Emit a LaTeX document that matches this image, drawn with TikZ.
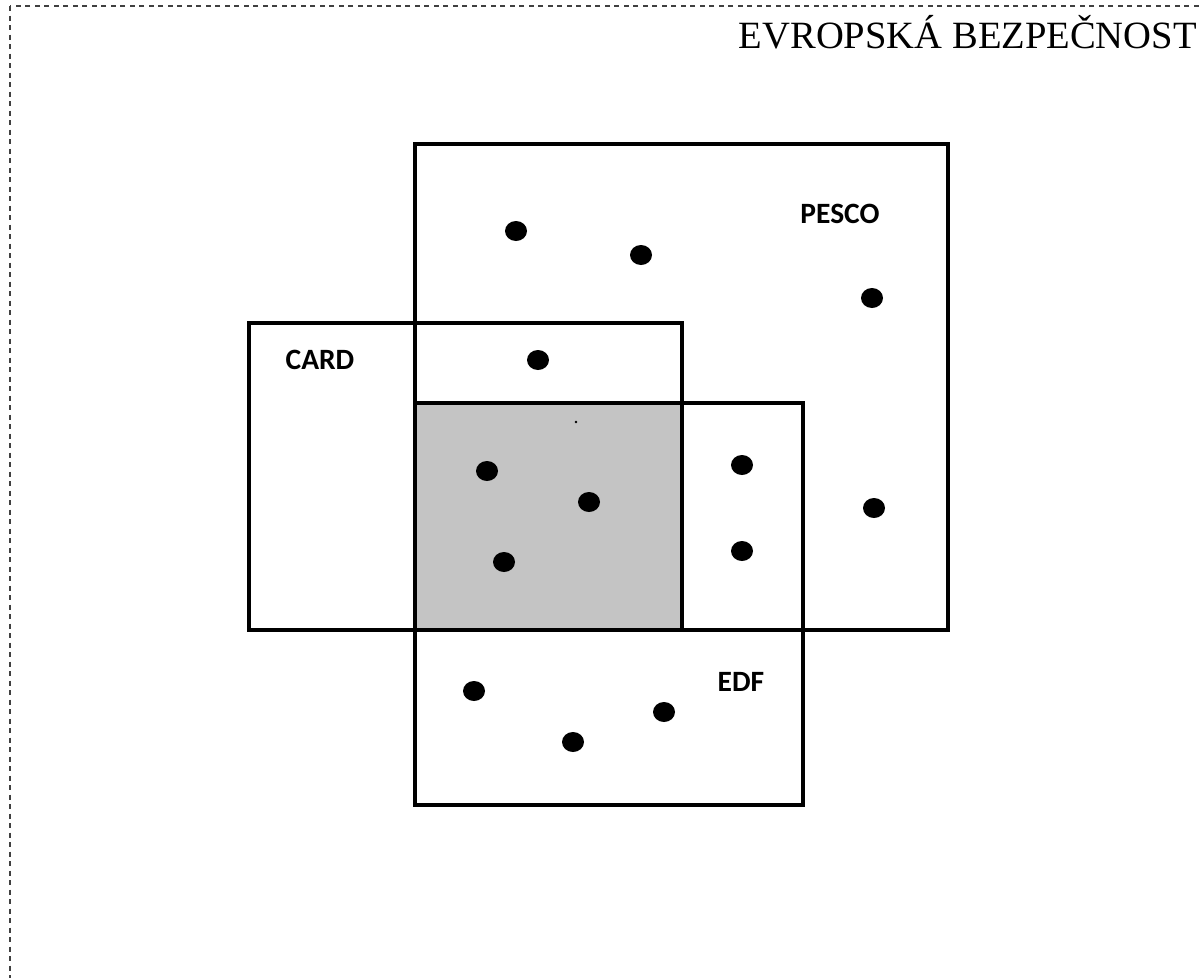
\documentclass[tikz,border=0pt]{standalone}
\usepackage{fontspec}
\setmainfont{Liberation Serif}
\newfontfamily\lblfont{Carlito}
\begin{document}
\begin{tikzpicture}[x=1pt,y=-1pt,
  box/.style={draw=black,line width=3.2pt},
  lbl/.style={font=\lblfont\bfseries\fontsize{29.5}{34}\selectfont,inner sep=0pt},
]
\useasboundingbox (0,0) rectangle (1201,977);
\begin{scope}
\clip (0,0) rectangle (1201,977);
\draw[line width=1.2pt,draw=black!75,dash pattern=on 5pt off 4.5pt] (10,6) rectangle (1230,1000);
\end{scope}
\node[anchor=north east,inner sep=0pt,font=\fontsize{38.6}{44}\selectfont] (title) at (1197,15.5) {EVROPSKÁ BEZPEČNOST};
% gray intersection
\fill[black!23] (415,403) rectangle (682,630);
\draw[box] (415,144) rectangle (948,630);
\draw[box] (249,323) rectangle (682,630);
\draw[box] (415,403) rectangle (803,805);
\node[lbl] (pesco) at (840,214) {PESCO};
\node[lbl] (card) at (320,360) {CARD};
\node[lbl] (edf) at (741,682) {EDF};
\foreach \x/\y in {516/231,641/255,872/298,538/360,487/471,589/502,504/562,742/465,742/551,874/508,474/691,573/742,664/712}
  \fill (\x,\y) ellipse (11 and 10);
\fill (576,422) circle (1.3);
\end{tikzpicture}
\end{document}
